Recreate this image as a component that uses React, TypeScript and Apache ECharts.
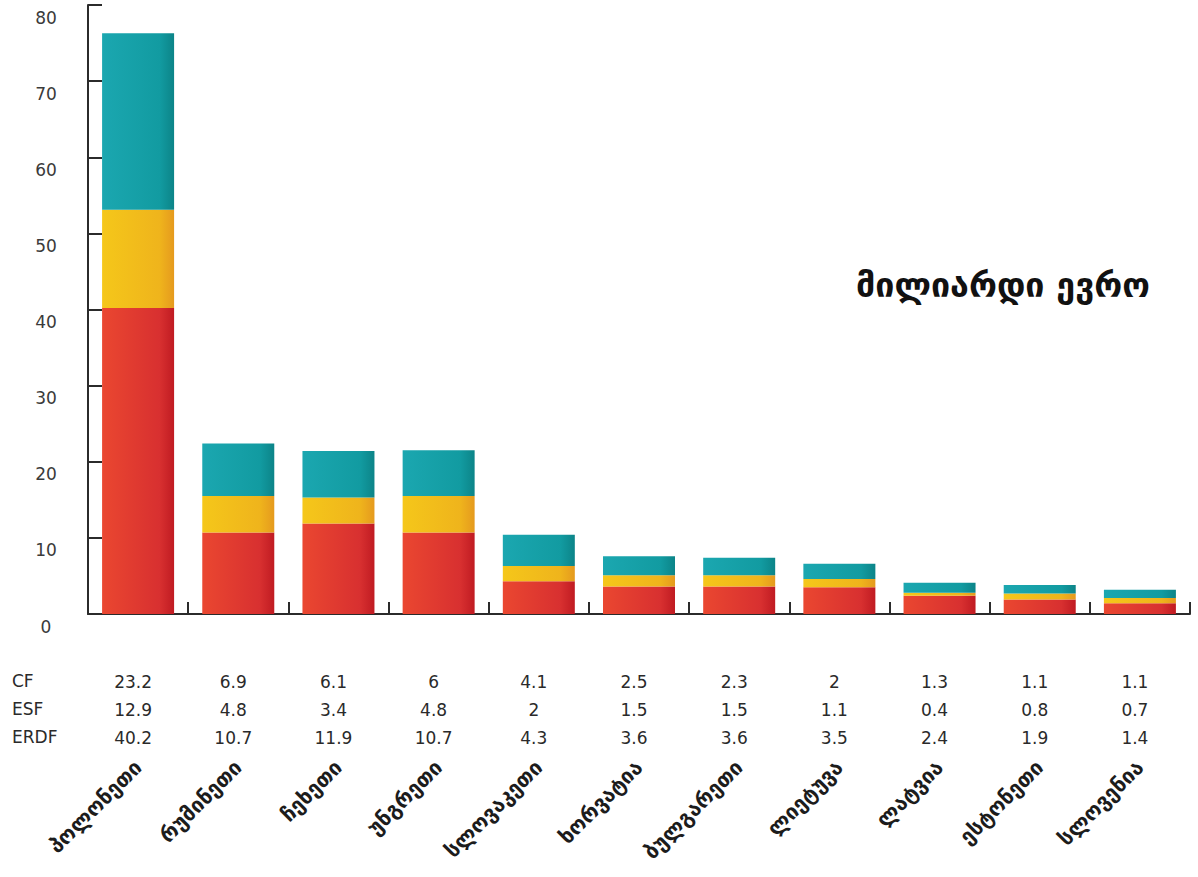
import React, { useEffect, useRef } from "react";
import * as echarts from "echarts";

const categories = [
  "პოლონეთი",
  "რუმინეთი",
  "ჩეხეთი",
  "უნგრეთი",
  "სლოვაკეთი",
  "ხორვატია",
  "ბულგარეთი",
  "ლიეტუვა",
  "ლატვია",
  "ესტონეთი",
  "სლოვენია",
];
const cfValues = [23.2, 6.9, 6.1, 6, 4.1, 2.5, 2.3, 2, 1.3, 1.1, 1.1];
const esfValues = [12.9, 4.8, 3.4, 4.8, 2, 1.5, 1.5, 1.1, 0.4, 0.8, 0.7];
const erdfValues = [40.2, 10.7, 11.9, 10.7, 4.3, 3.6, 3.6, 3.5, 2.4, 1.9, 1.4];
const rowNames = ["CF", "ESF", "ERDF"];
const unitTitle = "მილიარდი ევრო";

const FONT = "DejaVu Sans";

function grad(stops: [number, string][]) {
  return new echarts.graphic.LinearGradient(
    0,
    0,
    1,
    0,
    stops.map(([offset, color]) => ({ offset, color }))
  );
}

export default function App() {
  const ref = useRef<HTMLDivElement>(null);
  useEffect(() => {
    document.body.style.margin = "0";
    const chart = echarts.init(ref.current!, undefined, { renderer: "svg" });
    const rows = [cfValues, esfValues, erdfValues];
    const rowMargins = [68, 96, 124];
    const tableAxes = rows.map((vals, r) => ({
      type: "category",
      gridIndex: 0,
      position: "bottom",
      data: categories,
      axisLine: { show: false },
      axisTick: { show: false },
      splitLine: { show: false },
      axisLabel: {
        interval: 0,
        margin: rowMargins[r],
        verticalAlign: "middle",
        padding: [0, 10, 0, 0],
        fontFamily: FONT,
        fontSize: 17,
        color: "#2a2a2a",
        formatter: (_v: string, i: number) => String(vals[i]),
      },
    }));
    chart.setOption({
      animation: false,
      backgroundColor: "#ffffff",
      grid: { left: 88, right: 8, top: 5, bottom: 263, containLabel: false },
      xAxis: [
        {
          type: "category",
          data: categories,
          position: "bottom",
          axisLine: { show: true, lineStyle: { color: "#2b2b2b", width: 2 } },
          axisTick: {
            show: true,
            inside: true,
            length: 12,
            alignWithLabel: false,
            lineStyle: { color: "#2b2b2b", width: 2 },
          },
          axisLabel: {
            interval: 0,
            rotate: 45,
            margin: 150,
            fontFamily: FONT,
            fontSize: 21,
            fontWeight: "bold",
            color: "#1c1c1c",
          },
        },
        ...tableAxes,
      ],
      yAxis: {
        type: "value",
        min: 0,
        max: 80,
        interval: 10,
        axisLine: { show: true, lineStyle: { color: "#2b2b2b", width: 2 } },
        axisTick: { show: true, inside: true, length: 14, lineStyle: { color: "#2b2b2b", width: 2 } },
        splitLine: { show: false },
        axisLabel: {
          margin: 42,
          align: "center",
          verticalAlign: "top",
          padding: [4, 0, 0, 0],
          fontFamily: FONT,
          fontSize: 17,
          color: "#3a3a3a",
        },
      },
      graphic: [
        ...rowNames.map((name, r) => ({
          type: "text",
          left: 12,
          top: 614 + rowMargins[r] - 10,
          style: {
            text: name,
            fontFamily: FONT,
            fontSize: 17,
            fill: "#2a2a2a",
          },
        })),
        {
          type: "text",
          right: 48,
          top: 268,
          style: {
            text: unitTitle,
            fontFamily: FONT,
            fontSize: 34,
            fontWeight: "bold",
            fill: "#111111",
          },
        },
      ],
      series: [
        {
          name: "ERDF",
          type: "bar",
          stack: "total",
          barWidth: 72,
          data: erdfValues,
          itemStyle: {
            color: grad([
              [0, "#ea4730"],
              [0.8, "#d83030"],
              [1, "#c01b22"],
            ]),
          },
        },
        {
          name: "ESF",
          type: "bar",
          stack: "total",
          barWidth: 72,
          data: esfValues,
          itemStyle: {
            color: grad([
              [0, "#f5c71a"],
              [0.8, "#efb41c"],
              [1, "#e59a1e"],
            ]),
          },
        },
        {
          name: "CF",
          type: "bar",
          stack: "total",
          barWidth: 72,
          data: cfValues,
          itemStyle: {
            color: grad([
              [0, "#1ba7b0"],
              [0.8, "#129ba1"],
              [1, "#0c8488"],
            ]),
          },
        },
      ],
    });
    return () => chart.dispose();
  }, []);
  return <div ref={ref} style={{ width: 1198, height: 877 }} />;
}
